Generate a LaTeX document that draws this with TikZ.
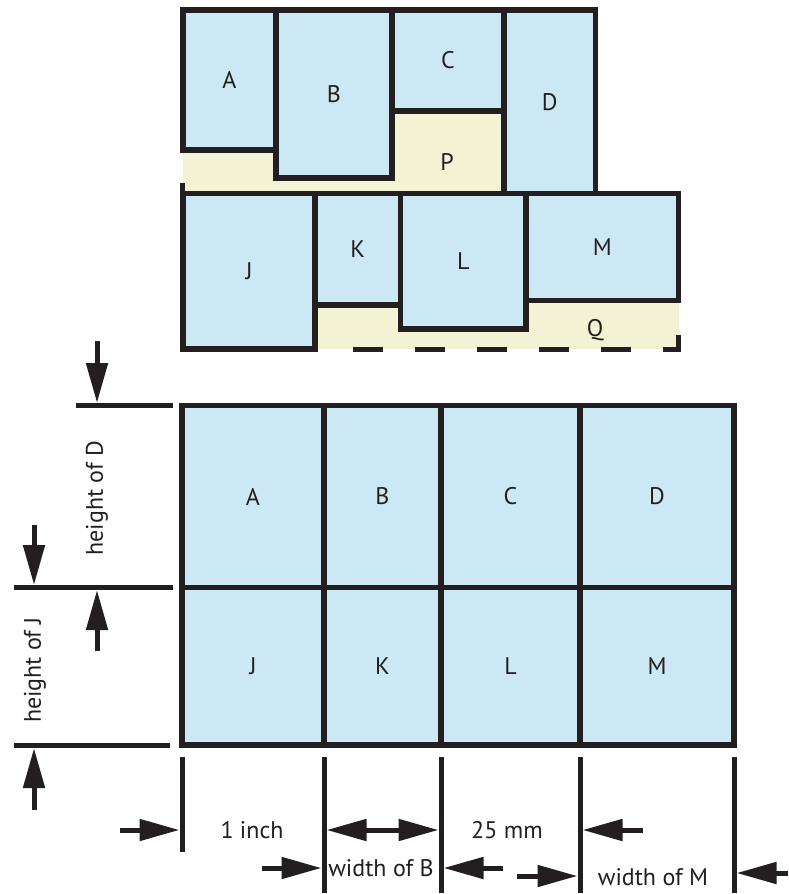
\documentclass[tikz,border=0pt]{standalone}
\usepackage{fontspec}
\setmainfont{PT Sans}
\usetikzlibrary{arrows.meta,fit}
\definecolor{ink}{HTML}{231F20}
\definecolor{sky}{HTML}{CCE8F4}
\definecolor{sand}{HTML}{F4F2D4}
\newcommand{\lbl}{\fontsize{24}{28}\selectfont}
\tikzset{
  blk/.style={draw=ink, fill=sky, line width=5.5pt, inner sep=0pt},
  tag/.style={font=\lbl, text=ink, inner sep=1pt},
  ext/.style={draw=ink, line width=5pt},
  dim/.style={draw=ink, line width=5pt, -{Triangle[length=40pt,width=21pt]}},
}

\begin{document}
\begin{tikzpicture}[x=1pt, y=-1pt]
  \useasboundingbox (0,0) rectangle (788,894);

  % loose packing, gaps in yellow
  \fill[sand] (183,10) rectangle (503,193);
  \fill[sand] (315,193) rectangle (678.5,349);
  \node[blk, fit={(183,10) (276,150)}, label={[tag]center:A}] (A) {};
  \node[blk, fit={(276,10) (392,178)}, label={[tag]center:B}] (B) {};
  \node[blk, fit={(392,10) (504,111)}, label={[tag]center:C}] (C) {};
  \node[blk, fit={(504,10) (595.5,193.5)}, label={[tag]center:D}] (D) {};
  \node[blk, fit={(183,193.5) (315,349)}, label={[tag]center:J}] (J) {};
  \node[blk, fit={(315,193.5) (400.5,305)}, label={[tag]center:K}] (K) {};
  \node[blk, fit={(400.5,193.5) (526,329)}, label={[tag]center:L}] (L) {};
  \node[blk, fit={(526,193.5) (678.5,300.5)}, label={[tag]center:M}] (M) {};
  \node[tag] (P) at (447,162) {P};
  \node[tag] (Q) at (595,330) {Q};
  \draw[ext] (182.5,183) -- (182.5,193);
  \draw[ext, dash pattern=on 30pt off 32pt] (678.5,335) -- (678.5,349) -- (339,349);

  % tight grid
  \foreach \up/\dn/\xa/\xb in {A/J/182/324, B/K/324/441, C/L/441/580, D/M/580/734}{
    \node[blk, fit={(\xa,405.5) (\xb,587.5)}, label={[tag]center:\up}] (g\up) {};
    \node[blk, fit={(\xa,587.5) (\xb,745)}, label={[tag]center:\dn}] (g\dn) {};
  }

  % extension lines
  \draw[ext] (76,405.5) -- (173,405.5);
  \draw[ext] (14,587.5) -- (173,587.5);
  \draw[ext] (14,745) -- (170,745);
  \draw[ext] (182,757) -- (182,852);
  \foreach \x in {324,441,580,734} \draw[ext] (\x,757) -- (\x,893);

  % arrow ends
  \coordinate (hDa) at (97,341);    \coordinate (hDb) at (97,403);
  \coordinate (hDc) at (34,525);    \coordinate (hDd) at (34,585);
  \coordinate (hJa) at (97,651);    \coordinate (hJb) at (97,590);
  \coordinate (hJc) at (34,810);    \coordinate (hJd) at (34,748);
  \coordinate (inA) at (120,830);   \coordinate (inB) at (179.5,830);
  \coordinate (mmA) at (326.5,830); \coordinate (mmB) at (438.5,830);
  \coordinate (mmC) at (643,830);   \coordinate (mmD) at (582.5,830);
  \coordinate (wBa) at (262,868);   \coordinate (wBb) at (321.5,868);
  \coordinate (wBc) at (503,868);   \coordinate (wBd) at (443.5,868);
  \coordinate (wMa) at (517,876);   \coordinate (wMb) at (577.5,876);
  \coordinate (wMc) at (788,873);   \coordinate (wMd) at (736.5,873);

  \draw[dim] (hDa) -- (hDb);
  \draw[dim] (hDc) -- (hDd);
  \draw[dim] (hJa) -- (hJb);
  \draw[dim] (hJc) -- (hJd);
  \draw[dim] (inA) -- (inB);
  \draw[dim, {Triangle[length=40pt,width=21pt]}-{Triangle[length=40pt,width=21pt]}] (mmA) -- (mmB);
  \draw[dim] (mmC) -- (mmD);
  \draw[dim] (wBa) -- (wBb);
  \draw[dim] (wBc) -- (wBd);
  \draw[dim] (wMa) -- (wMb);
  \draw[dim] (wMc) -- (wMd);

  \node[tag, rotate=90] (htD) at (97,498) {height of D};
  \node[tag, rotate=90] (htJ) at (35,670) {height of J};
  \node[tag] (inch) at (252,830) {1 inch};
  \node[tag] (mm) at (507,830) {25 mm};
  \node[tag] (wdB) at (381,868) {width of B};
  \node[tag] (wdM) at (653,877) {width of M};
\end{tikzpicture}
\end{document}
